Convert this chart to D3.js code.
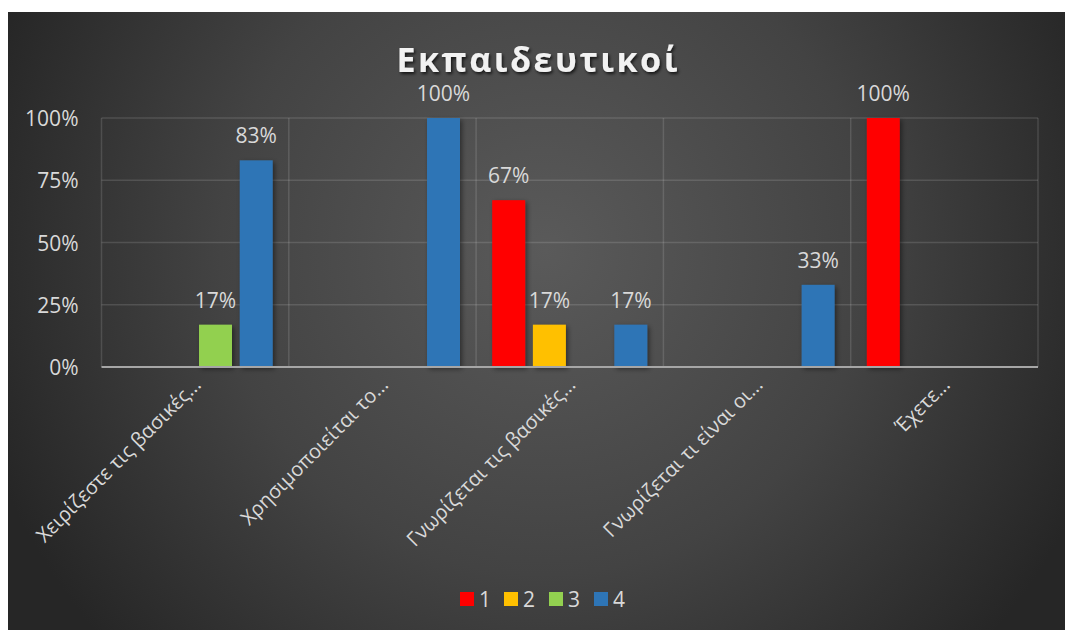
<!DOCTYPE html>
<html>
<head>
<meta charset="utf-8">
<script src="https://cdn.jsdelivr.net/npm/d3@7"></script>
<style>
  html, body { margin: 0; padding: 0; background: #ffffff; }
  svg { display: block; }
  text { font-family: "Open Sans", "Noto Sans", sans-serif; }
</style>
</head>
<body>
<svg id="chart" width="1065" height="630"></svg>
<script>
// Survey answers (share of teachers per answer level)
const categories = [
  "Χειρίζεστε τις βασικές...",
  "Χρησιμοποιείται το...",
  "Γνωρίζεται τις βασικές...",
  "Γνωρίζεται τι είναι οι...",
  "Έχετε..."
];
const seriesNames = ["1", "2", "3", "4"];
const series1 = [null, null, 67, null, 100];
const series2 = [null, null, 17, null, null];
const series3 = [17, null, null, null, null];
const series4 = [83, 100, 17, 33, null];
const seriesColors = ["#FF0000", "#FFC000", "#92D050", "#2E75B6"];
const yTicks = [0, 25, 50, 75, 100];
const titleText = "Εκπαιδευτικοί";

const seriesValues = [series1, series2, series3, series4];

const svg = d3.select("#chart");
const W = 1065, H = 630;
const frame = { x: 8, y: 12, w: W - 8, h: H - 12 };
const plot = { left: 101.5, right: 1038, top: 118, bottom: 367 };

// ---- defs: background gradient, shadows ----
const defs = svg.append("defs");
const grad = defs.append("radialGradient")
  .attr("id", "bg")
  .attr("gradientUnits", "userSpaceOnUse")
  .attr("cx", 545).attr("cy", 250).attr("r", 590);
grad.append("stop").attr("offset", 0).attr("stop-color", "#5a5a5a");
grad.append("stop").attr("offset", 0.55).attr("stop-color", "#434343");
grad.append("stop").attr("offset", 1).attr("stop-color", "#262626");

const barShadow = defs.append("filter").attr("id", "barShadow")
  .attr("x", "-30%").attr("y", "-10%").attr("width", "160%").attr("height", "130%");
barShadow.append("feDropShadow")
  .attr("dx", 2).attr("dy", 2).attr("stdDeviation", 2.5)
  .attr("flood-color", "#000").attr("flood-opacity", 0.45);

const titleShadow = defs.append("filter").attr("id", "titleShadow")
  .attr("x", "-10%").attr("y", "-30%").attr("width", "120%").attr("height", "160%");
titleShadow.append("feDropShadow")
  .attr("dx", 1.5).attr("dy", 2).attr("stdDeviation", 1.8)
  .attr("flood-color", "#000").attr("flood-opacity", 0.7);

svg.append("rect")
  .attr("x", frame.x).attr("y", frame.y)
  .attr("width", frame.w).attr("height", frame.h)
  .attr("fill", "url(#bg)");

// ---- scales ----
const x0 = d3.scaleBand()
  .domain(categories)
  .range([plot.left, plot.right])
  .paddingInner(0).paddingOuter(0);

const groupMargin = 16.1;
const x1 = d3.scaleBand()
  .domain(seriesNames)
  .range([groupMargin, x0.bandwidth() - groupMargin])
  .paddingInner(0.19).paddingOuter(0);

const y = d3.scaleLinear().domain([0, 100]).range([plot.bottom, plot.top]);

// ---- gridlines ----
const grid = svg.append("g").attr("class", "grid");
grid.selectAll("line.h")
  .data(yTicks.filter(t => t > 0))
  .join("line")
  .attr("class", "h")
  .attr("x1", plot.left).attr("x2", plot.right)
  .attr("y1", d => y(d)).attr("y2", d => y(d))
  .attr("stroke", "rgba(255,255,255,0.13)").attr("stroke-width", 1.5);

const bounds = categories.map(c => x0(c)).concat([plot.right]);
grid.selectAll("line.v")
  .data(bounds)
  .join("line")
  .attr("class", "v")
  .attr("x1", d => d).attr("x2", d => d)
  .attr("y1", plot.top).attr("y2", plot.bottom)
  .attr("stroke", "rgba(255,255,255,0.13)").attr("stroke-width", 1.5);

// ---- y axis labels ----
const yAxis = d3.axisLeft(y)
  .tickValues(yTicks)
  .tickFormat(d => d + "%")
  .tickSize(0)
  .tickPadding(0);
const yG = svg.append("g")
  .attr("transform", `translate(${plot.left - 23},0)`)
  .call(yAxis);
yG.select(".domain").remove();
yG.selectAll("text")
  .attr("fill", "#d9d9d9")
  .style("font-size", "21px")
  .attr("dy", "0.36em");

// ---- bars ----
const barData = [];
categories.forEach((c, i) => {
  seriesNames.forEach((s, j) => {
    const v = seriesValues[j][i];
    if (v !== null) barData.push({ cat: c, series: s, value: v, color: seriesColors[j] });
  });
});

const bars = svg.append("g").attr("class", "bars");
bars.selectAll("rect")
  .data(barData)
  .join("rect")
  .attr("x", d => x0(d.cat) + x1(d.series))
  .attr("width", x1.bandwidth())
  .attr("y", d => y(d.value))
  .attr("height", d => y(0) - y(d.value))
  .attr("fill", d => d.color)
  .attr("filter", "url(#barShadow)");

// ---- baseline ----
svg.append("line")
  .attr("x1", plot.left).attr("x2", plot.right)
  .attr("y1", y(0)).attr("y2", y(0))
  .attr("stroke", "#a6a6a6").attr("stroke-width", 2.2);

// ---- data labels ----
svg.append("g").attr("class", "labels")
  .selectAll("text")
  .data(barData)
  .join("text")
  .attr("x", d => x0(d.cat) + x1(d.series) + x1.bandwidth() / 2)
  .attr("y", d => y(d.value) - 17)
  .attr("text-anchor", "middle")
  .attr("fill", "#d9d9d9")
  .style("font-size", "21px")
  .text(d => d.value + "%");

// ---- category labels (rotated) ----
svg.append("g").attr("class", "xlabels")
  .selectAll("text")
  .data(categories)
  .join("text")
  .attr("transform", d => `translate(${x0(d) + x0.bandwidth() / 2 + 2},${plot.bottom + 14}) rotate(-45)`)
  .attr("text-anchor", "end")
  .attr("dy", "0.35em")
  .attr("fill", "#d9d9d9")
  .style("font-size", "20px")
  .text(d => d);

// ---- title ----
svg.append("text")
  .attr("x", 537)
  .attr("y", 72)
  .attr("text-anchor", "middle")
  .attr("fill", "#f2f2f2")
  .attr("filter", "url(#titleShadow)")
  .attr("textLength", 281)
  .attr("lengthAdjust", "spacing")
  .style("font-size", "34px")
  .style("font-weight", "bold")
  .text(titleText);

// ---- legend ----
const legendX = [460, 504, 549, 594];
const legend = svg.append("g").attr("class", "legend")
  .selectAll("g")
  .data(seriesNames)
  .join("g")
  .attr("transform", (d, i) => `translate(${legendX[i]},592)`);
legend.append("rect")
  .attr("width", 14).attr("height", 14)
  .attr("fill", (d, i) => seriesColors[i]);
legend.append("text")
  .attr("x", 19).attr("y", 14.5)
  .attr("fill", "#d9d9d9")
  .style("font-size", "21px")
  .text(d => d);
</script>
</body>
</html>
